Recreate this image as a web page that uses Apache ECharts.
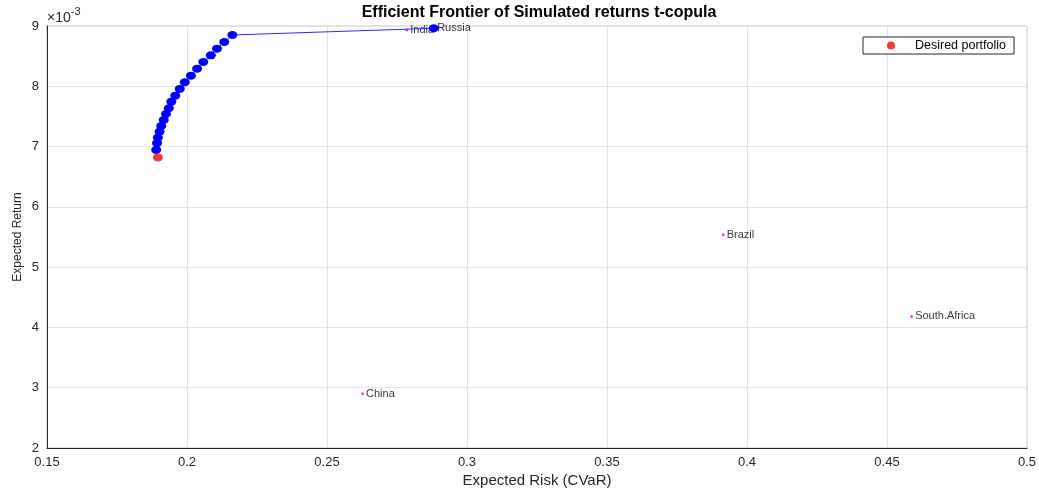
<!DOCTYPE html>
<html>
<head>
<meta charset="utf-8">
<script src="https://cdn.jsdelivr.net/npm/echarts@6/dist/echarts.min.js"></script>
<style>
  html, body { margin: 0; padding: 0; background: #ffffff; }
  #chart { width: 1039px; height: 490px; }
</style>
</head>
<body>
<div id="chart"></div>
<script>
// Efficient frontier points (risk = CVaR, return in units of 1e-3)
const frontierRisk = [0.1890, 0.1893, 0.1896, 0.1902, 0.1908, 0.1917, 0.1925, 0.1935, 0.1944, 0.1958,
                      0.1974, 0.1992, 0.2014, 0.2036, 0.2058, 0.2085, 0.2107, 0.2133, 0.2162, 0.2881];
const frontierReturn = [6.945, 7.056, 7.149, 7.248, 7.342, 7.442, 7.541, 7.636, 7.745, 7.845,
                        7.956, 8.067, 8.176, 8.292, 8.403, 8.514, 8.624, 8.735, 8.851, 8.962];

// Individual assets
const assetNames = ['India', 'Russia', 'China', 'Brazil', 'South.Africa'];
const assetRisk = [0.2785, 0.2881, 0.2627, 0.3915, 0.4588];
const assetReturn = [8.934, 8.962, 2.90, 5.536, 4.182];

// Desired portfolio
const desiredRisk = [0.1896];
const desiredReturn = [6.82];

// Axis ticks
const xTicks = { min: 0.15, max: 0.5, step: 0.05 };
const yTicks = { min: 2, max: 9, step: 1 };

const ellipse = 'path://M0,1a1,1 0 1,0 2,0a1,1 0 1,0 -2,0z';
const FONT = '"Liberation Sans", Arial, Helvetica, sans-serif';
const chart = echarts.init(document.getElementById('chart'), null, { renderer: 'canvas' });

chart.setOption({
  backgroundColor: '#ffffff',
  animation: false,
  textStyle: { fontFamily: FONT },
  title: {
    text: 'Efficient Frontier of Simulated returns t-copula',
    left: 539,
    top: 5,
    textAlign: 'center',
    padding: 0,
    textStyle: { fontSize: 16, fontWeight: 'bold', color: '#000000', fontFamily: FONT }
  },
  legend: {
    data: ['Desired portfolio'],
    left: 863,
    top: 37,
    orient: 'vertical',
    padding: [2, 8, 2, 24],
    itemWidth: 10,
    itemHeight: 8,
    backgroundColor: '#ffffff',
    borderColor: '#262626',
    borderWidth: 1,
    borderRadius: 0,
    textStyle: { fontSize: 12.5, color: '#000000', fontFamily: FONT, padding: [0, 0, 0, 14] }
  },
  grid: {
    left: 47, right: 12, top: 26, bottom: 42,
    outerBoundsMode: 'none',
    containLabel: false,
    show: true,
    borderColor: '#c4c4c4',
    borderWidth: 1,
    backgroundColor: '#ffffff'
  },
  xAxis: {
    type: 'value',
    min: xTicks.min, max: xTicks.max, interval: xTicks.step,
    name: 'Expected Risk (CVaR)',
    nameLocation: 'middle',
    nameGap: 25,
    nameMoveOverlap: false,
    nameTextStyle: { fontSize: 15, color: '#262626', fontFamily: FONT },
    axisLine: { show: true, lineStyle: { color: '#262626', width: 1 } },
    axisTick: { show: false },
    axisLabel: {
      margin: 8, fontSize: 13, color: '#262626', fontFamily: FONT,
      formatter: v => String(Math.round(v * 100) / 100)
    },
    splitLine: { show: true, lineStyle: { color: '#e3e3e3', width: 1 } }
  },
  yAxis: [
    {
      type: 'value',
      min: yTicks.min, max: yTicks.max, interval: yTicks.step,
      name: 'Expected Return',
      nameLocation: 'middle',
      nameGap: 23,
      nameMoveOverlap: false,
      nameTextStyle: { fontSize: 12, color: '#262626', fontFamily: FONT },
      axisLine: { show: true, lineStyle: { color: '#262626', width: 1 } },
      axisTick: { show: false },
      axisLabel: { margin: 8, fontSize: 13, color: '#262626', fontFamily: FONT },
      splitLine: { show: true, lineStyle: { color: '#e3e3e3', width: 1 } }
    },
    {
      type: 'value',
      position: 'left',
      min: yTicks.min, max: yTicks.max, interval: yTicks.step,
      name: '{a|×10}{b|-3}',
      nameLocation: 'end',
      nameGap: 1,
      nameTextStyle: {
        align: 'left', verticalAlign: 'bottom', color: '#262626', fontFamily: FONT,
        rich: {
          a: { fontSize: 14, color: '#262626', verticalAlign: 'bottom', lineHeight: 19, fontFamily: FONT },
          b: { fontSize: 11, color: '#262626', verticalAlign: 'top', lineHeight: 19, fontFamily: FONT }
        }
      },
      axisLine: { show: false },
      axisTick: { show: false },
      axisLabel: { show: false },
      splitLine: { show: false }
    }
  ],
  series: [
    {
      name: 'Assets',
      type: 'scatter',
      symbol: 'circle',
      symbolSize: 3,
      itemStyle: { color: '#ff00ff' },
      label: {
        show: true, position: 'right', distance: 2,
        formatter: p => p.name,
        fontSize: 11, color: '#000000', fontFamily: FONT
      },
      data: assetNames.map((n, i) => ({ name: n, value: [assetRisk[i], assetReturn[i]] })),
      z: 2
    },
    {
      name: 'Frontier',
      type: 'line',
      symbol: ellipse,
      symbolSize: [10, 8],
      showAllSymbol: true,
      lineStyle: { color: '#2a2aff', width: 1 },
      itemStyle: { color: '#0000ff' },
      data: frontierRisk.map((x, i) => [x, frontierReturn[i]]),
      z: 3
    },
    {
      name: 'Desired portfolio',
      type: 'scatter',
      symbol: ellipse,
      symbolSize: [10, 8],
      itemStyle: { color: '#ff0000' },
      data: desiredRisk.map((x, i) => [x, desiredReturn[i]]),
      z: 4
    }
  ]
});
</script>
</body>
</html>
